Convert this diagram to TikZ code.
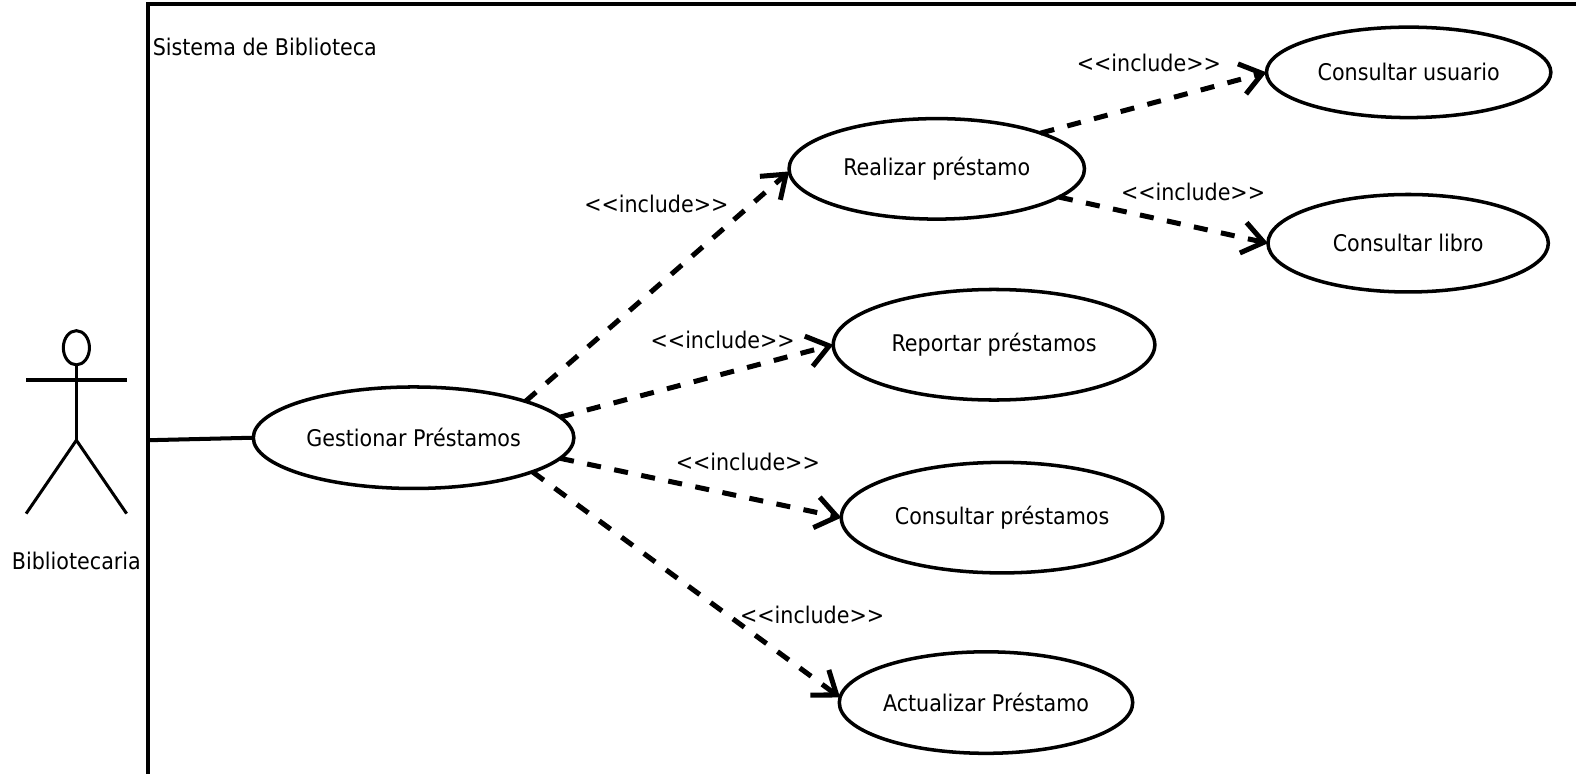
\documentclass[tikz,border=0pt]{standalone}
\usepackage{fontspec}
\usepackage{tikz}
\usetikzlibrary{shapes.geometric,arrows.meta}
\setmainfont{DejaVu Sans Condensed}

\begin{document}
\begin{tikzpicture}[
            x = 0.02cm, y = -0.02cm,
            every node/.style = {font=\fontsize{13}{16}\selectfont, inner sep = 0pt, outer sep = 0pt},
            usecase/.style = {draw, ellipse, line width = 0.07cm},
            includes/.style = {draw, dash pattern = on 0.28cm off 0.27cm, line width = 0.1cm, -{Straight Barb[length = 0.42cm, width = 0.62cm, line width = 0.1cm]}},
            stroke/.style = {line width = 0.06cm}
        ]
        \useasboundingbox (0,0) rectangle (1568,770);
        % frame of the system
        \draw[line width = 0.08cm] (147,770) -- (147,4) -- (1568,4);
        \node[anchor = west] (S1) at (152,47) {Sistema de Biblioteca};
        % actor
        \draw[stroke] (76,346) ellipse (13 and 17);
        \draw[stroke] (76,363) -- (76,438);
        \draw[line width = 0.08cm] (26,378) -- (126,378);
        \draw[stroke] (26,511) -- (76,438) -- (126,511);
        \node (A1) at (76,558) {Bibliotecaria};
        \coordinate (F1) at (147,438);
        % use cases
        \node[usecase, minimum width = 6.38cm, minimum height = 2.02cm] (B1) at (411.5,435.5) {Gestionar Préstamos};
        \node[usecase, minimum width = 5.88cm, minimum height = 2cm] (C1) at (932,168) {Realizar préstamo};
        \node[usecase, minimum width = 6.4cm, minimum height = 2.2cm] (C2) at (989,343) {Reportar préstamos};
        \node[usecase, minimum width = 6.4cm, minimum height = 2.2cm] (C3) at (997,515) {Consultar préstamos};
        \node[usecase, minimum width = 5.84cm, minimum height = 2.02cm] (C4) at (981,699) {Actualizar Préstamo};
        \node[usecase, minimum width = 5.66cm, minimum height = 1.8cm] (D1) at (1401.5,72) {Consultar usuario};
        \node[usecase, minimum width = 5.58cm, minimum height = 1.94cm] (D2) at (1401,242) {Consultar libro};
        % connectors
        \draw[line width = 0.08cm] (F1) -- (B1.west);
        \path (B1.18) edge[includes] (C1.181.5);
        \path (B1.8) edge[includes] (C2.west);
        \path (B1.-8) edge[includes] (C3.west);
        \path (B1.-16) edge[includes] (C4.178.5);
        \path (C1.19) edge[includes] (D1.west);
        \path (C1.-13) edge[includes] (D2.west);
        % labels of the connectors
        \node (L1) at (653,203) {<{}<include>{}>};
        \node (L2) at (719,338) {<{}<include>{}>};
        \node (L3) at (744,460) {<{}<include>{}>};
        \node (L4) at (808,612) {<{}<include>{}>};
        \node (L5) at (1143,63) {<{}<include>{}>};
        \node (L6) at (1187,191) {<{}<include>{}>};
    \end{tikzpicture}
\end{document}
